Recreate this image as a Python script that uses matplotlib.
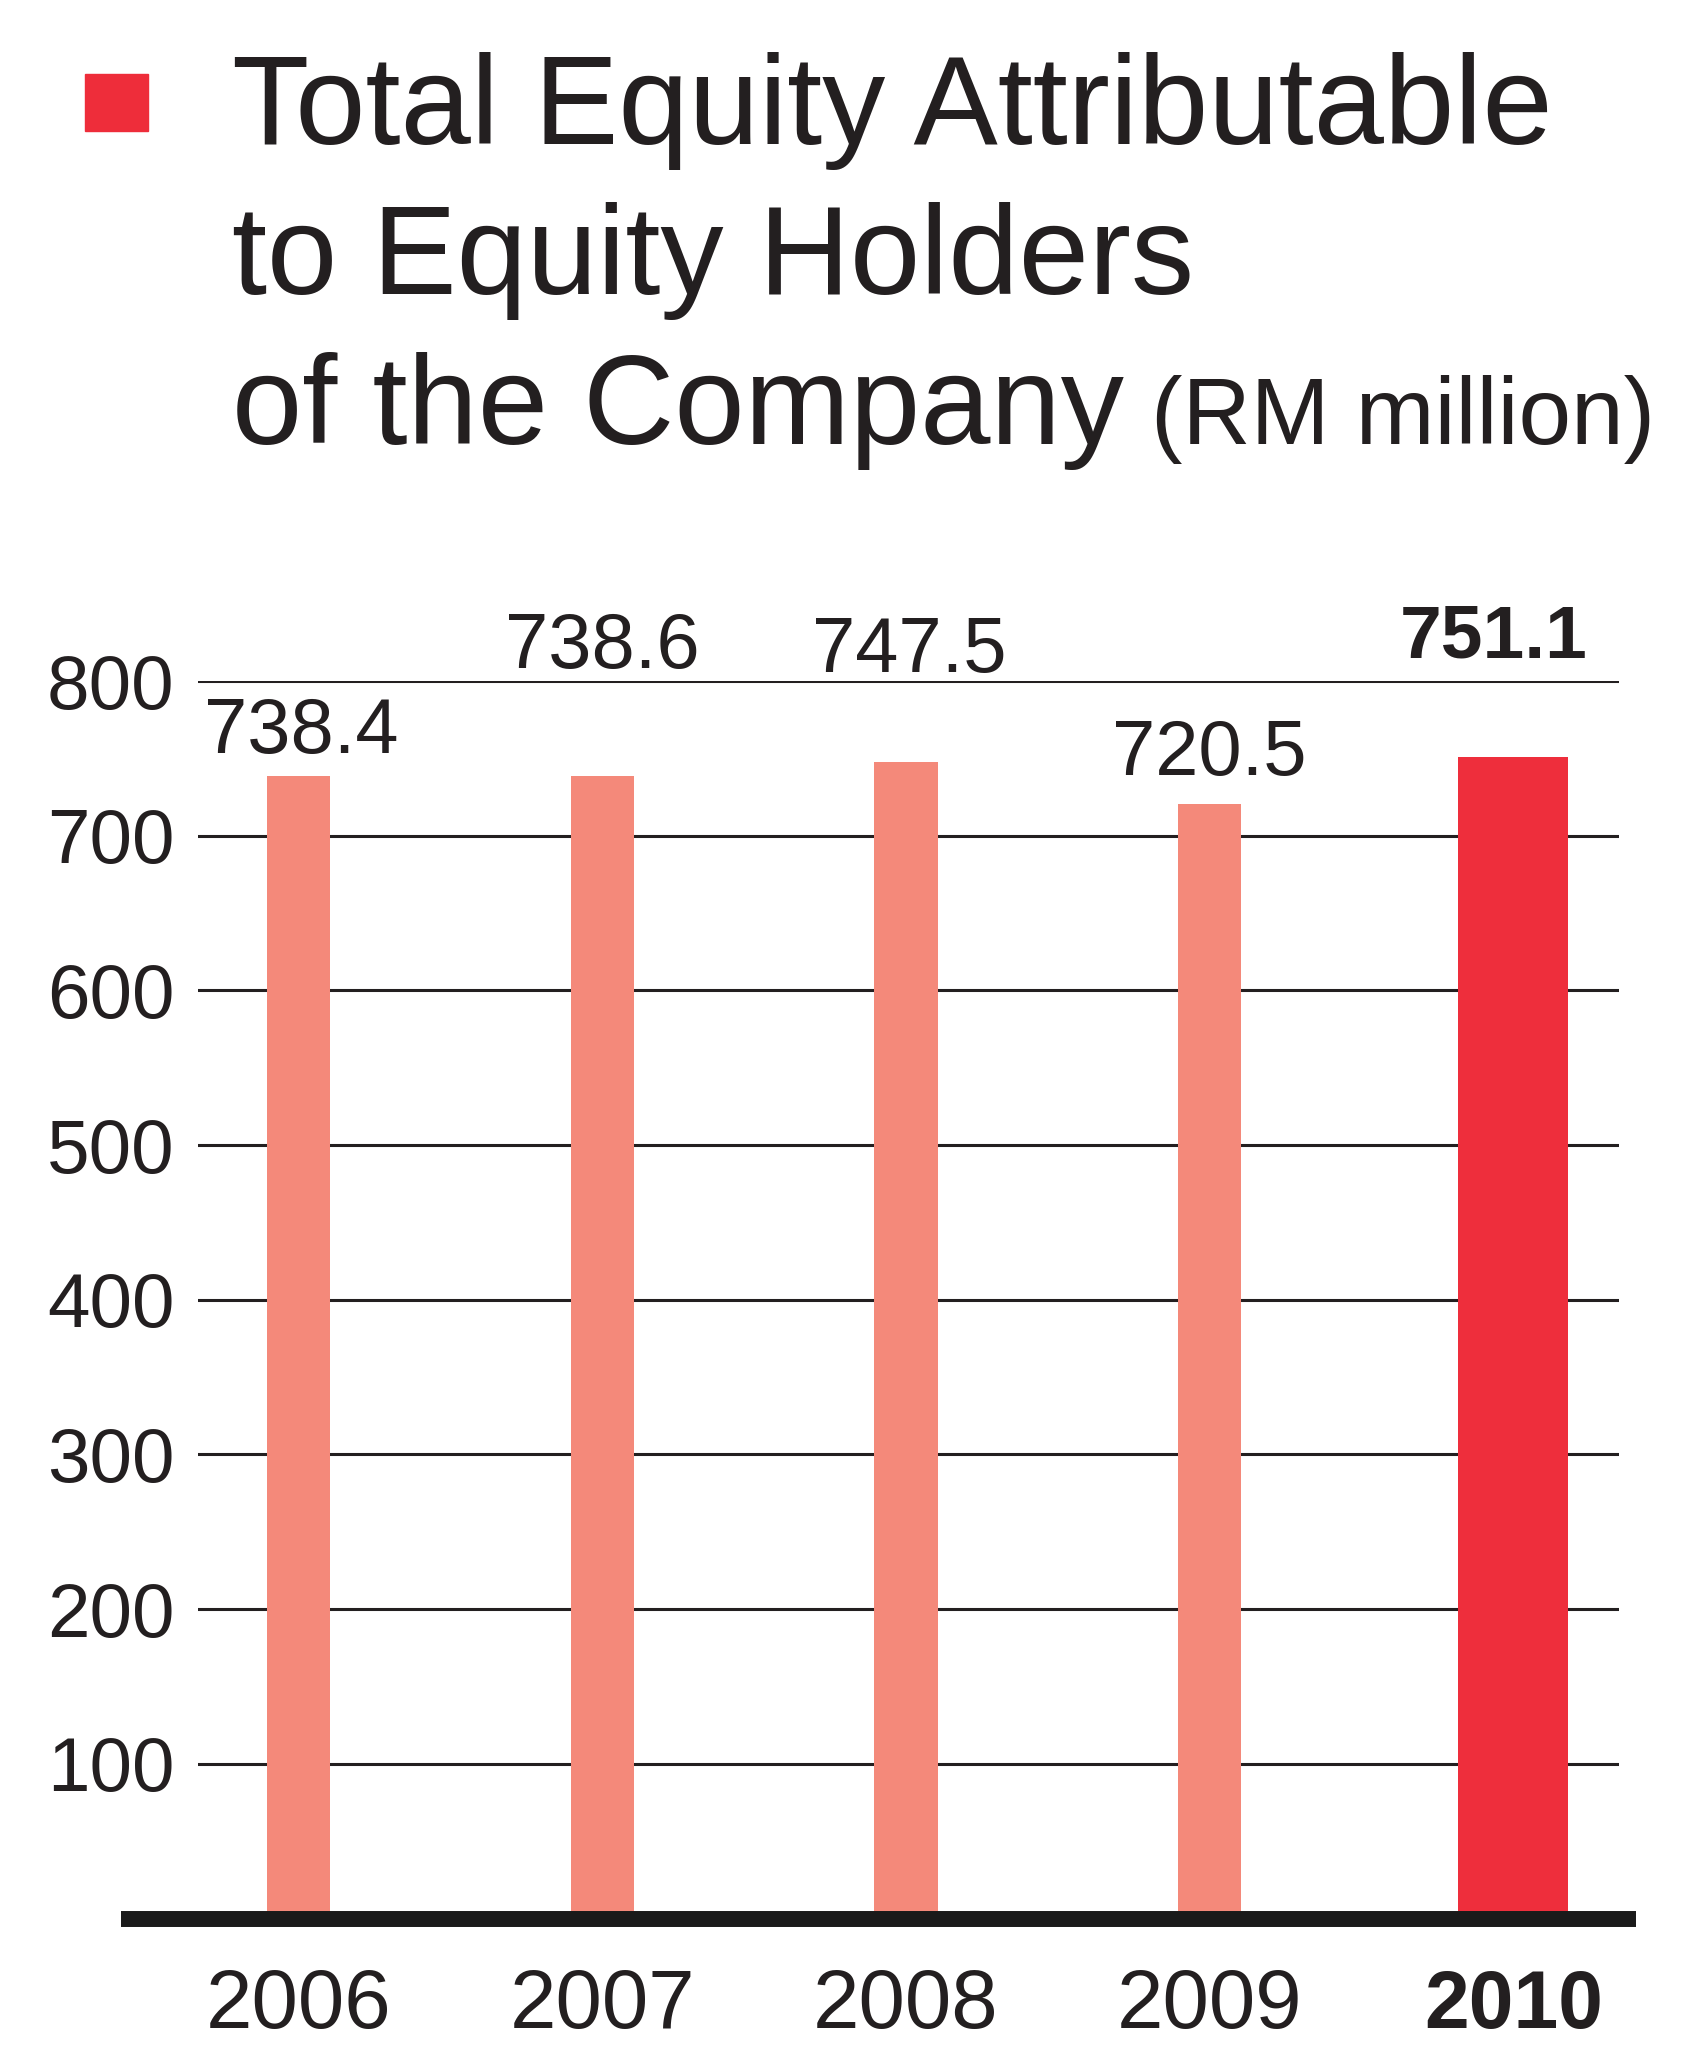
import matplotlib
matplotlib.use("Agg")
import matplotlib.pyplot as plt
from matplotlib.patches import Rectangle

plt.rcParams["font.family"] = ["Liberation Sans", "DejaVu Sans"]

years = ["2006", "2007", "2008", "2009", "2010"]
equity = [738.4, 738.6, 747.5, 720.5, 751.1]
value_labels = ["738.4", "738.6", "747.5", "720.5", "751.1"]
y_ticks = [100, 200, 300, 400, 500, 600, 700, 800]

# layout only: where each value label sits above its bar
label_offset = [15, 70, 58, 19, 64]
label_dx = [0.01, 0.0, 0.01, 0.0, -0.065]

light = "#F4897A"
dark = "#EE2E3C"
ink = "#231F20"

W, H = 1684, 2047
fig = plt.figure(figsize=(W / 100, H / 100), dpi=100)
fig.patch.set_facecolor("white")

ax = fig.add_axes([198 / W, 1 - 1918.5 / H, 1421 / W, (1918.5 - 681) / H])

x = list(range(len(years)))
colors = [light] * 4 + [dark]
widths = [0.208] * 4 + [0.362]
ax.bar(x, equity, width=widths, color=colors, zorder=2)

ax.set_xlim(-0.331, 4.348)
ax.set_ylim(0, 800)
ax.set_yticks(y_ticks)
ax.set_yticklabels([str(t) for t in y_ticks], fontsize=55, color=ink)
ax.tick_params(axis="y", length=0, pad=17)
ax.set_xticks([])
ax.set_axisbelow(True)
ax.grid(axis="y", color=ink, linewidth=2.2)
for s in ax.spines.values():
    s.set_visible(False)

# thick base line
ax.plot([-0.054, 1.012], [0, 0], transform=ax.get_yaxis_transform(),
        color="#1a1a1a", linewidth=11.5, clip_on=False, zorder=3,
        solid_capstyle="butt")

for i, (v, lab) in enumerate(zip(equity, value_labels)):
    bold = i == len(years) - 1
    ax.text(i + label_dx[i], v + label_offset[i], lab, ha="center", va="baseline",
            fontsize=54 if bold else 56, color=ink,
            fontweight="bold" if bold else "normal")

for i, yr in enumerate(years):
    bold = i == len(years) - 1
    ax.text(i, -0.0885, yr, transform=ax.get_xaxis_transform(), ha="center",
            va="baseline", fontsize=60 if not bold else 58, color=ink,
            fontweight="bold" if bold else "normal", clip_on=False)

# title block
fig.patches.append(Rectangle((85 / W, 1 - 131 / H), 63 / W, 57 / H,
                             transform=fig.transFigure, color="#EE2D3A"))
title_lines = ["Total Equity Attributable", "to Equity Holders", "of the Company"]
baselines = [144, 294, 444]
for line, yb in zip(title_lines, baselines):
    fig.text(232 / W, 1 - yb / H, line, fontsize=91, color=ink, va="baseline", ha="left")
fig.text(1151 / W, 1 - 444 / H, "(RM million)", fontsize=68, color=ink,
         va="baseline", ha="left")

fig.savefig("out.png", dpi=100)
